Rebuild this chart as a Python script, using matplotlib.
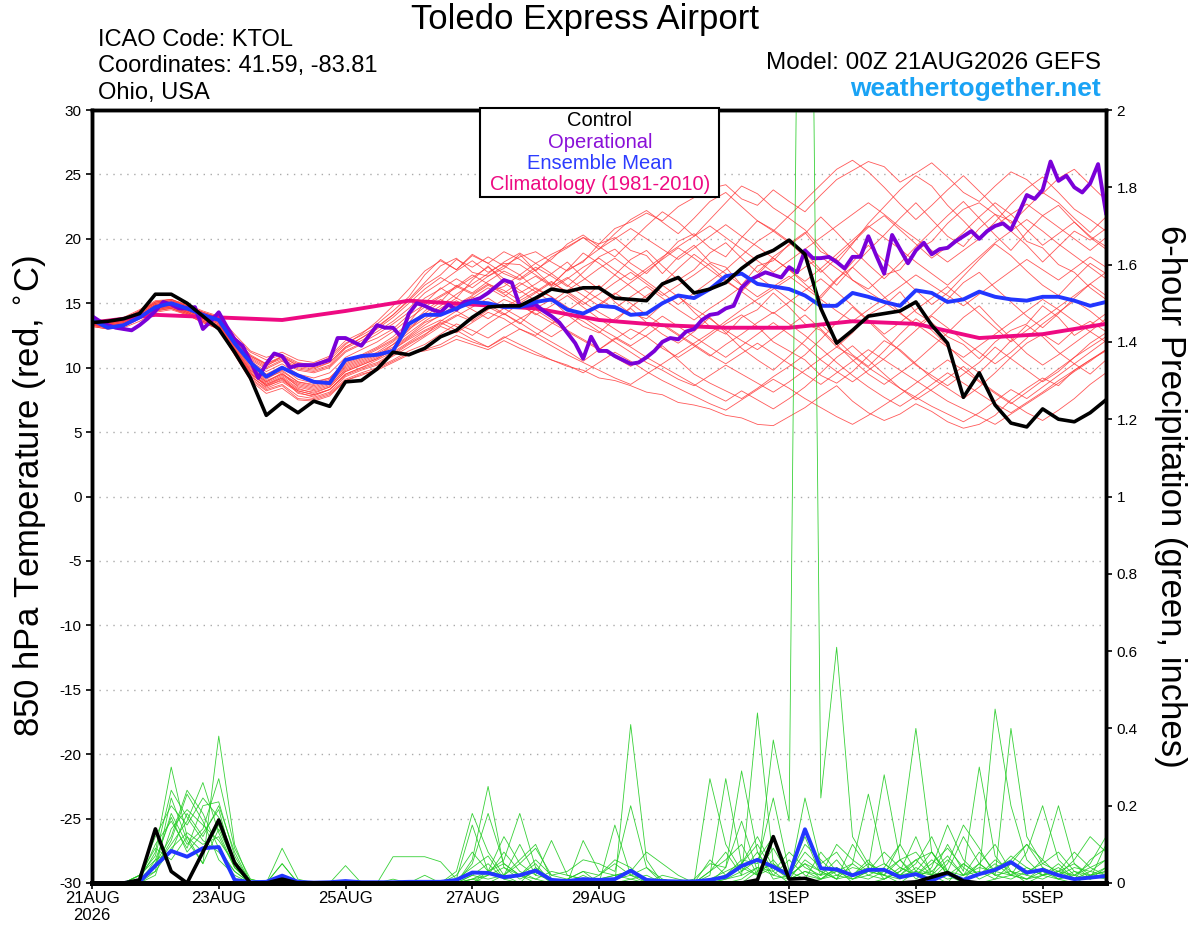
import matplotlib
matplotlib.use("Agg")
import matplotlib.pyplot as plt
from matplotlib.patches import Rectangle

plt.rcParams['font.family'] = ['Liberation Sans', 'DejaVu Sans']
plt.rcParams['axes.unicode_minus'] = False

# time axes (hours since 00Z 21 Aug 2026)
hours = [6 * i for i in range(65)]
op_hours = [3 * j for j in range(129)]
clim_hours = [24 * d for d in range(17)]

tick_hours = [0, 48, 96, 144, 192, 264, 312, 360]
tick_labels = ['21AUG\n2026', '23AUG', '25AUG', '27AUG', '29AUG', '1SEP', '3SEP', '5SEP']

# 850 hPa temperature (C)
control_t = [13.5, 13.6, 13.8, 14.2, 15.7, 15.7, 15.0, 14.0, 13.0, 11.2,
             9.2, 6.3, 7.3, 6.5, 7.4, 7.0, 8.9, 9.0, 9.9, 11.2,
             11.0, 11.5, 12.4, 12.9, 13.9, 14.7, 14.8, 14.8, 15.4, 16.1,
             15.9, 16.2, 16.2, 15.4, 15.3, 15.2, 16.5, 17.0, 15.8, 16.1,
             16.6, 17.7, 18.6, 19.1, 19.9, 18.8, 14.6, 11.9, 12.9, 14.0,
             14.2, 14.4, 15.1, 13.3, 11.9, 7.7, 9.6, 7.1, 5.7, 5.4,
             6.8, 6.0, 5.8, 6.5, 7.5]

mean_t = [13.7, 13.1, 13.3, 13.9, 14.7, 15.0, 14.6, 14.1, 13.7, 11.9,
          10.4, 9.3, 10.0, 9.4, 8.9, 8.8, 10.6, 10.9, 11.0, 11.3,
          13.4, 14.1, 14.1, 14.6, 15.1, 15.0, 14.7, 14.7, 15.1, 15.3,
          14.5, 14.2, 14.8, 14.7, 14.1, 14.2, 15.0, 15.6, 15.4, 16.1,
          17.1, 17.3, 16.5, 16.3, 16.1, 15.6, 14.8, 14.8, 15.8, 15.5,
          15.1, 14.8, 16.0, 15.8, 15.1, 15.3, 15.9, 15.5, 15.3, 15.2,
          15.5, 15.5, 15.2, 14.8, 15.1]

oper_t = [14.0, 13.6, 13.3, 13.1, 13.0, 12.9, 13.3, 13.8, 14.4, 15.1,
          14.9, 14.6, 14.6, 14.7, 13.0, 13.6, 14.3, 13.2, 12.2, 11.7,
          10.5, 9.2, 10.3, 11.1, 10.9, 10.0, 10.2, 10.2, 10.2, 10.4,
          10.6, 12.3, 12.3, 12.0, 11.7, 12.5, 13.3, 13.1, 13.1, 12.4,
          14.2, 15.0, 14.8, 14.5, 14.3, 14.9, 14.5, 15.1, 15.2, 15.4,
          15.8, 16.3, 16.8, 16.6, 14.8, 14.8, 14.9, 14.4, 14.0, 13.5,
          12.7, 11.9, 10.7, 12.4, 11.3, 11.3, 10.9, 10.6, 10.3, 10.4,
          10.8, 11.3, 12.0, 12.3, 12.2, 12.8, 13.0, 13.7, 14.1, 14.2,
          14.6, 14.8, 16.2, 16.8, 17.1, 17.4, 17.2, 17.0, 17.8, 17.4,
          19.1, 18.5, 18.5, 18.6, 18.2, 17.7, 18.6, 18.6, 20.2, 18.7,
          17.3, 20.3, 19.2, 18.1, 19.1, 19.7, 18.8, 19.2, 19.3, 19.8,
          20.2, 20.6, 20.0, 20.6, 21.0, 21.2, 20.7, 22.0, 23.4, 23.1,
          23.8, 26.0, 24.5, 24.9, 24.0, 23.6, 24.3, 25.8, 22.0]

clim_t = [13.5, 14.1, 13.9, 13.7, 14.4, 15.2, 14.9, 14.6, 13.7, 13.3,
          13.1, 13.1, 13.6, 13.4, 12.3, 12.6, 13.4]

members_t = [
    [13.6, 13.5, 13.8, 14.4, 15.1, 15.3, 14.8, 14.3, 13.9, 12.4, 11.2, 10.6, 11.0, 10.4, 10.2, 10.8, 11.9, 12.5, 13.2, 14.1, 15.2,
     16.4, 17.2, 18.4, 17.8, 18.6, 17.9, 17.2, 18.1, 18.8, 19.4, 20.1, 19.6, 20.8, 21.3, 22.0, 21.4, 22.5, 23.2, 23.9, 24.2, 23.1, 22.6, 23.8, 22.9,
     22.1, 23.4, 24.6, 25.3, 26.0, 25.6, 24.4, 25.1, 25.9, 24.8, 23.6, 22.9, 24.1, 25.2, 24.6, 23.5, 24.7, 25.4, 24.2, 23.0],
    [13.2, 13.0, 13.1, 13.6, 14.3, 14.5, 14.1, 13.5, 13.0, 11.0, 9.0, 8.0, 8.4, 7.5, 7.4, 7.8, 9.0, 9.5, 9.8, 10.4, 11.0,
     11.4, 11.8, 12.5, 12.0, 11.6, 12.4, 11.8, 11.2, 10.6, 10.1, 9.8, 9.2, 9.0, 8.6, 8.1, 7.9, 7.3, 7.1, 6.8, 6.3, 6.1, 5.6, 5.5, 6.2,
     6.9, 7.8, 8.6, 7.4, 6.5, 5.9, 6.4, 7.2, 6.6, 5.8, 5.3, 5.6, 6.3, 7.5, 8.4, 9.2, 8.6, 9.8, 10.6, 11.4],
    [13.5, 13.2, 13.3, 14.0, 14.8, 15.0, 14.6, 14.0, 13.5, 11.5, 9.8, 8.9, 9.6, 8.5, 8.2, 8.6, 9.9, 10.4, 10.9, 11.8, 12.9,
     14.2, 15.1, 16.4, 15.8, 16.7, 17.5, 16.9, 17.8, 17.1, 16.3, 17.4, 18.6, 19.2, 18.1, 17.3, 18.5, 19.8, 20.4, 19.3, 18.6, 20.1, 21.4, 20.7, 19.8,
     18.9, 17.6, 16.4, 17.8, 19.1, 20.3, 21.6, 22.8, 21.5, 20.2, 19.4, 20.8, 21.9, 20.6, 19.5, 18.2, 19.4, 20.6, 19.9, 20.8],
    [13.4, 13.3, 13.5, 14.1, 14.7, 14.9, 14.4, 13.9, 13.4, 11.4, 9.6, 8.6, 9.2, 8.0, 7.8, 8.3, 9.5, 10.0, 10.6, 11.2, 12.0,
     12.8, 13.4, 14.1, 13.6, 14.5, 15.3, 14.8, 14.2, 13.5, 12.8, 12.1, 11.4, 12.2, 13.0, 12.4, 11.5, 10.8, 11.6, 12.5, 13.4, 14.1, 13.2, 12.0, 11.3,
     10.6, 9.4, 8.8, 9.7, 10.9, 12.1, 11.4, 10.3, 9.2, 8.4, 7.6, 8.5, 9.6, 10.8, 11.9, 12.6, 11.8, 12.9, 13.6, 12.8],
    [13.7, 13.4, 13.6, 14.3, 15.0, 15.2, 14.7, 14.2, 13.8, 12.0, 10.4, 9.5, 10.1, 9.3, 8.9, 9.2, 10.5, 11.0, 11.6, 12.4, 13.5,
     15.0, 16.2, 15.4, 16.8, 17.9, 16.6, 15.8, 16.5, 17.3, 18.2, 17.0, 16.1, 17.2, 18.4, 19.1, 17.9, 16.8, 17.6, 18.9, 19.7, 18.5, 17.4, 18.6, 19.5,
     20.4, 21.7, 20.5, 19.2, 18.0, 16.9, 18.1, 19.4, 20.6, 21.8, 22.9, 21.6, 20.3, 19.1, 20.5, 21.8, 22.6, 21.3, 20.2, 19.4],
    [13.3, 13.1, 13.2, 13.9, 14.6, 14.8, 14.3, 13.8, 13.2, 11.2, 9.4, 8.4, 8.9, 8.1, 7.7, 8.1, 9.3, 9.8, 10.2, 10.9, 11.6,
     12.4, 13.2, 12.7, 13.5, 14.3, 13.8, 13.0, 12.5, 13.4, 14.2, 13.6, 12.8, 12.0, 11.2, 10.4, 9.8, 9.1, 8.6, 9.4, 10.2, 9.5, 8.8, 8.1, 8.9,
     9.8, 10.7, 11.6, 10.9, 10.0, 9.2, 8.4, 7.7, 7.0, 6.4, 5.8, 6.5, 7.4, 8.3, 7.6, 8.5, 9.4, 10.3, 11.2, 12.1],
    [13.6, 13.4, 13.7, 14.3, 15.0, 15.1, 14.7, 14.1, 13.7, 11.9, 10.6, 9.9, 10.5, 9.8, 9.6, 10.0, 11.2, 11.8, 12.3, 13.0, 14.1,
     14.9, 15.6, 16.3, 15.7, 16.5, 16.0, 15.2, 15.9, 16.7, 15.8, 14.9, 15.7, 16.6, 17.4, 16.5, 15.6, 16.4, 17.2, 18.1, 17.3, 16.4, 15.5, 16.3, 17.1,
     16.2, 15.3, 14.4, 13.6, 14.5, 15.4, 16.3, 17.2, 16.4, 15.6, 14.8, 15.7, 16.6, 17.5, 18.4, 17.6, 16.8, 17.7, 18.6, 17.8],
    [13.5, 13.3, 13.4, 14.0, 14.7, 14.9, 14.5, 14.0, 13.6, 11.7, 10.0, 9.1, 9.8, 8.9, 8.6, 9.0, 10.2, 10.7, 11.2, 12.0, 13.0,
     13.8, 14.6, 15.4, 14.8, 15.9, 16.3, 17.2, 16.1, 15.5, 14.4, 15.3, 16.4, 15.1, 14.2, 13.8, 14.9, 15.6, 14.3, 13.2, 12.6, 13.9, 14.5, 15.8, 14.7,
     13.4, 12.9, 11.6, 12.7, 14.1, 14.8, 15.9, 14.3, 13.5, 12.4, 11.8, 10.7, 12.0, 12.9, 13.4, 14.8, 13.9, 12.5, 13.3, 14.2],
    [13.8, 13.6, 13.9, 14.5, 15.2, 15.3, 14.9, 14.4, 14.0, 12.6, 11.3, 10.8, 11.2, 10.6, 10.4, 10.9, 12.1, 12.7, 13.4, 14.4, 15.5,
     17.2, 18.4, 17.6, 18.8, 18.1, 17.3, 16.8, 17.6, 18.4, 19.6, 20.3, 19.4, 18.6, 19.8, 21.0, 22.1, 21.3, 20.2, 21.5, 22.8, 24.1, 23.5, 22.4, 21.6,
     20.7, 19.3, 18.1, 19.6, 21.2, 22.5, 23.8, 24.9, 24.1, 22.6, 21.4, 20.1, 21.3, 22.7, 23.9, 24.8, 23.6, 22.3, 21.5, 20.6],
    [13.3, 13.1, 13.2, 13.8, 14.5, 14.6, 14.2, 13.6, 13.1, 11.1, 9.2, 8.3, 8.7, 7.8, 7.6, 8.0, 9.1, 9.6, 10.0, 10.6, 11.3,
     11.8, 12.6, 13.4, 12.9, 12.3, 13.1, 13.8, 14.5, 13.7, 12.9, 12.2, 11.5, 10.8, 10.1, 10.9, 11.7, 10.6, 9.5, 8.8, 8.2, 7.6, 8.4, 9.3, 10.1,
     11.0, 12.2, 13.5, 14.7, 13.6, 12.4, 11.3, 10.2, 9.4, 8.6, 9.5, 10.4, 11.6, 10.7, 9.8, 8.9, 9.7, 10.8, 11.9, 12.7],
    [13.6, 13.5, 13.6, 14.2, 14.9, 15.0, 14.6, 14.1, 13.8, 12.2, 10.9, 10.2, 10.7, 10.0, 9.8, 10.2, 11.5, 12.1, 12.8, 13.6, 14.6,
     15.8, 16.6, 17.5, 18.3, 17.4, 18.1, 18.0, 17.2, 16.4, 17.6, 18.9, 18.1, 17.2, 16.3, 15.4, 16.5, 17.7, 18.8, 17.9, 16.8, 15.9, 17.2, 18.5, 17.6,
     16.5, 15.4, 16.8, 18.2, 19.5, 18.3, 17.1, 16.0, 14.9, 15.8, 17.1, 18.4, 19.6, 18.7, 17.5, 16.4, 15.6, 16.9, 18.1, 17.3],
    [13.4, 13.2, 13.4, 14.0, 14.6, 14.8, 14.4, 13.9, 13.5, 11.6, 9.9, 9.0, 9.5, 8.7, 8.4, 8.8, 10.0, 10.5, 11.0, 11.6, 12.5,
     13.5, 14.0, 14.8, 15.5, 14.7, 14.1, 15.0, 15.8, 16.6, 15.9, 15.1, 14.3, 13.6, 14.7, 15.6, 16.4, 15.5, 14.6, 13.8, 12.9, 12.1, 11.4, 12.3, 13.2,
     14.1, 13.0, 11.8, 10.6, 9.5, 8.7, 9.6, 10.5, 11.6, 12.7, 13.9, 14.8, 13.5, 12.3, 11.1, 10.2, 11.0, 11.9, 12.8, 13.8],
    [13.5, 13.4, 13.5, 14.1, 14.8, 15.0, 14.6, 14.1, 13.7, 11.8, 10.3, 9.4, 10.0, 9.1, 8.8, 9.2, 10.4, 10.9, 11.5, 12.2, 13.2,
     14.4, 15.3, 14.6, 15.4, 16.2, 15.5, 16.4, 17.1, 16.3, 17.0, 16.1, 15.3, 14.6, 15.5, 16.3, 15.4, 14.5, 13.7, 14.6, 15.4, 16.3, 17.1, 16.2, 15.3,
     14.4, 15.6, 16.9, 17.8, 16.7, 15.5, 14.3, 13.2, 14.1, 15.3, 16.6, 17.4, 16.2, 15.1, 14.0, 13.1, 14.2, 15.4, 16.5, 15.6],
    [13.2, 13.0, 13.2, 13.8, 14.4, 14.6, 14.2, 13.6, 13.1, 11.3, 9.5, 8.7, 9.3, 8.4, 8.0, 8.5, 9.7, 10.2, 10.7, 11.4, 12.3,
     13.1, 13.7, 13.2, 12.5, 13.4, 14.2, 13.5, 12.7, 12.0, 11.3, 10.5, 11.4, 12.3, 11.6, 10.8, 10.1, 9.4, 8.7, 8.0, 7.4, 8.2, 7.5, 6.8, 7.6,
     8.5, 9.6, 10.8, 11.7, 10.6, 9.5, 8.4, 7.5, 8.3, 9.2, 10.1, 9.0, 8.1, 7.3, 6.5, 5.9, 6.7, 7.6, 8.7, 9.6],
    [13.7, 13.5, 13.7, 14.4, 15.0, 15.2, 14.8, 14.3, 13.9, 12.3, 11.0, 10.3, 10.8, 10.2, 10.0, 10.4, 11.6, 12.3, 13.0, 13.9, 15.0,
     16.1, 17.0, 16.3, 17.2, 16.5, 15.8, 16.6, 15.9, 15.1, 16.0, 16.8, 17.7, 18.5, 17.6, 16.7, 15.8, 14.9, 15.8, 16.7, 17.6, 18.7, 19.8, 20.6, 19.7,
     18.6, 17.4, 18.5, 19.7, 20.9, 21.8, 20.7, 19.6, 18.5, 19.4, 20.5, 21.7, 22.8, 21.9, 20.7, 19.5, 20.4, 21.3, 20.1, 19.2],
    [13.4, 13.2, 13.3, 13.9, 14.6, 14.7, 14.3, 13.7, 13.3, 11.4, 9.7, 8.8, 9.4, 8.6, 8.3, 8.7, 9.8, 10.3, 10.8, 11.5, 12.4,
     13.3, 14.1, 14.9, 15.6, 16.4, 15.7, 14.9, 14.1, 14.8, 15.6, 14.7, 13.8, 13.0, 12.2, 13.1, 14.0, 13.2, 12.4, 11.6, 10.8, 11.7, 12.6, 13.5, 12.6,
     11.7, 10.6, 9.7, 8.9, 9.8, 10.7, 11.8, 12.9, 14.0, 13.1, 12.1, 11.2, 10.3, 11.2, 12.3, 13.4, 14.3, 15.2, 14.4, 13.4],
    [13.6, 13.4, 13.6, 14.2, 14.9, 15.1, 14.7, 14.2, 13.7, 12.1, 10.7, 10.0, 10.6, 9.9, 9.7, 10.1, 11.3, 11.9, 12.6, 13.4, 14.3,
     15.4, 16.1, 16.9, 16.2, 17.1, 17.9, 18.6, 19.0, 18.2, 17.5, 18.3, 19.2, 20.0, 20.8, 20.0, 19.2, 18.4, 19.3, 20.2, 21.1, 20.2, 19.4, 18.5, 17.6,
     16.7, 17.7, 18.8, 19.9, 21.0, 20.1, 19.2, 18.2, 17.3, 16.4, 17.5, 18.6, 19.7, 20.6, 21.5, 20.6, 19.6, 18.7, 17.8, 16.9],
    [13.3, 13.2, 13.3, 13.9, 14.5, 14.7, 14.3, 13.7, 13.2, 11.3, 9.5, 8.6, 9.0, 8.2, 7.9, 8.3, 9.5, 10.0, 10.4, 11.1, 11.9,
     12.6, 13.3, 14.0, 14.7, 15.4, 14.6, 13.9, 13.1, 12.4, 13.2, 14.1, 14.9, 15.8, 15.0, 14.1, 13.3, 12.5, 11.7, 10.9, 11.8, 12.6, 13.5, 14.3, 13.4,
     12.5, 11.5, 10.4, 9.4, 8.5, 7.7, 7.0, 7.8, 8.7, 9.6, 8.8, 8.0, 7.2, 6.5, 7.3, 8.1, 9.0, 9.8, 10.6, 11.3],
    [13.5, 13.3, 13.5, 14.1, 14.8, 15.0, 14.5, 14.0, 13.6, 11.9, 10.5, 9.7, 10.3, 9.5, 9.2, 9.6, 10.8, 11.4, 12.0, 12.8, 13.8,
     14.7, 15.5, 16.2, 17.0, 17.8, 16.9, 16.0, 15.2, 16.1, 16.9, 17.8, 18.5, 17.6, 16.8, 17.7, 18.6, 19.4, 20.2, 21.0, 20.1, 19.2, 18.3, 17.4, 18.3,
     19.2, 20.1, 21.0, 21.9, 22.8, 21.9, 20.9, 20.0, 19.1, 18.2, 19.1, 20.0, 21.0, 21.9, 22.7, 21.8, 20.9, 20.0, 19.1, 20.1],
    [13.4, 13.3, 13.4, 14.0, 14.7, 14.9, 14.4, 13.9, 13.4, 11.5, 9.8, 8.9, 9.5, 8.8, 8.5, 8.9, 10.1, 10.6, 11.1, 11.8, 12.7,
     13.6, 14.4, 15.2, 14.5, 13.8, 14.6, 15.4, 16.2, 15.5, 14.7, 13.9, 13.1, 12.4, 11.7, 12.5, 13.4, 12.6, 11.8, 11.0, 10.3, 11.1, 11.9, 11.1, 10.3,
     9.5, 8.7, 9.6, 10.5, 11.4, 10.6, 9.8, 9.0, 8.2, 7.4, 6.8, 6.2, 5.6, 6.4, 7.2, 8.0, 8.8, 9.7, 10.5, 11.4],
    [13.6, 13.4, 13.7, 14.3, 15.1, 15.2, 14.8, 14.2, 13.8, 12.1, 10.8, 10.1, 10.9, 10.3, 10.1, 10.6, 11.8, 12.6, 13.6, 14.8, 16.1,
     17.5, 18.3, 17.6, 18.7, 18.1, 19.0, 18.4, 17.5, 18.6, 19.3, 20.1, 19.2, 20.4, 21.5, 22.2, 21.3, 20.4, 21.6, 22.9, 23.6, 22.5, 21.4, 20.6, 21.8,
     23.0, 24.2, 25.4, 26.1, 25.2, 24.0, 22.7, 21.5, 22.6, 23.8, 24.9, 23.7, 22.5, 21.2, 22.4, 23.6, 22.8, 21.6, 20.5, 21.7],
    [13.3, 13.1, 13.2, 13.8, 14.4, 14.6, 14.1, 13.5, 13.0, 11.0, 9.1, 8.2, 8.6, 7.6, 7.5, 7.9, 9.0, 9.4, 9.9, 10.5, 11.1,
     11.3, 11.6, 12.2, 11.8, 11.4, 12.1, 11.5, 11.0, 10.6, 10.2, 9.6, 10.4, 11.2, 10.5, 9.7, 9.0, 8.4, 7.8, 7.2, 6.7, 7.5, 8.3, 9.1, 8.4,
     7.6, 6.9, 6.2, 5.6, 6.3, 7.1, 7.9, 8.8, 9.7, 10.6, 9.8, 8.9, 8.0, 7.2, 8.1, 9.0, 9.9, 10.8, 11.6, 12.4],
    [13.5, 13.4, 13.6, 14.2, 14.9, 15.1, 14.6, 14.0, 13.6, 11.7, 10.1, 9.2, 9.7, 8.9, 8.7, 9.1, 10.3, 10.8, 11.4, 12.1, 13.1,
     14.0, 14.8, 15.7, 16.5, 17.3, 18.2, 18.9, 18.1, 17.3, 16.4, 15.6, 14.8, 15.7, 16.6, 17.5, 18.4, 19.3, 18.5, 17.6, 16.7, 15.9, 15.0, 14.2, 15.1,
     16.0, 16.9, 15.9, 14.8, 13.7, 12.6, 13.5, 14.5, 15.4, 16.3, 15.3, 14.2, 13.1, 12.0, 12.9, 13.8, 14.7, 15.6, 16.5, 17.4],
    [13.4, 13.2, 13.3, 13.9, 14.6, 14.8, 14.3, 13.8, 13.3, 11.4, 9.6, 8.7, 9.2, 8.3, 8.1, 8.5, 9.7, 10.2, 10.7, 11.4, 12.2,
     12.9, 13.5, 12.9, 12.2, 11.6, 12.3, 13.0, 12.4, 11.7, 11.0, 10.4, 9.8, 9.2, 8.7, 9.5, 10.3, 11.1, 11.9, 12.7, 13.6, 14.5, 15.3, 16.1, 16.9,
     17.8, 18.6, 17.7, 16.8, 15.9, 15.1, 14.2, 13.4, 12.5, 11.6, 10.8, 11.7, 12.6, 13.5, 14.4, 15.3, 14.5, 13.6, 12.8, 12.0],
    [13.7, 13.5, 13.8, 14.4, 15.1, 15.3, 14.8, 14.3, 13.9, 12.2, 10.9, 10.3, 10.9, 10.1, 9.9, 10.4, 11.6, 12.3, 13.1, 14.1, 15.3,
     16.6, 17.9, 18.5, 17.4, 17.1, 17.7, 18.8, 17.5, 16.4, 17.6, 18.2, 19.6, 20.1, 19.1, 18.7, 17.3, 18.6, 19.5, 18.2, 17.8, 16.4, 17.9, 18.3, 19.6,
     20.5, 19.0, 18.4, 16.8, 16.1, 17.2, 17.6, 19.1, 19.8, 21.2, 22.3, 22.8, 21.9, 21.4, 19.8, 19.3, 18.0, 17.4, 16.2, 15.3],
    [13.3, 13.1, 13.2, 13.8, 14.5, 14.7, 14.2, 13.6, 13.2, 11.2, 9.3, 8.5, 9.1, 8.2, 7.9, 8.3, 9.4, 9.9, 10.3, 11.0, 11.8,
     12.5, 13.6, 14.4, 13.7, 14.9, 14.2, 13.4, 14.6, 15.3, 14.1, 13.2, 12.7, 13.8, 14.6, 13.5, 12.6, 11.9, 12.8, 13.9, 12.7, 11.5, 10.6, 9.8, 10.9,
     12.1, 13.4, 12.2, 11.0, 10.1, 11.3, 12.6, 13.8, 12.9, 11.7, 10.5, 9.6, 10.8, 12.1, 13.3, 12.4, 11.2, 10.3, 9.5, 10.6],
]

# 6-hour precipitation (inches)
control_p = [0, 0, 0, 0.008, 0.14, 0.03, 0, 0.08, 0.163, 0.052,
             0, 0, 0.01, 0, 0, 0, 0, 0, 0, 0,
             0, 0, 0, 0, 0, 0, 0, 0, 0, 0,
             0, 0, 0, 0, 0, 0, 0, 0, 0, 0,
             0, 0, 0.008, 0.12, 0.01, 0.012, 0, 0, 0, 0,
             0, 0, 0.003, 0.015, 0.027, 0.005, 0, 0, 0, 0,
             0, 0, 0, 0, 0]

mean_p = [0, 0, 0, 0.003, 0.045, 0.083, 0.068, 0.09, 0.093, 0.008,
          0.002, 0.003, 0.019, 0.003, 0.001, 0.002, 0.005, 0.002, 0.002, 0.002,
          0.003, 0.003, 0.003, 0.008, 0.027, 0.026, 0.015, 0.02, 0.032, 0.008,
          0.005, 0.01, 0.008, 0.01, 0.032, 0.008, 0.005, 0.004, 0.004, 0.008,
          0.016, 0.044, 0.06, 0.042, 0.02, 0.139, 0.038, 0.035, 0.02, 0.034,
          0.034, 0.015, 0.023, 0.006, 0.025, 0.008, 0.023, 0.034, 0.054, 0.027,
          0.034, 0.02, 0.01, 0.014, 0.018]

members_p = [
    [0, 0, 0, 0.01, 0.08, 0.30, 0.12, 0.05, 0.38, 0.10,
     0, 0, 0.02, 0, 0, 0, 0, 0, 0, 0,
     0, 0, 0, 0, 0.02, 0.05, 0.01, 0, 0, 0,
     0, 0, 0, 0, 0.41, 0.06, 0, 0, 0, 0,
     0.02, 0.05, 0.10, 0.03, 0, 0, 0.01, 0.04, 0, 0,
     0.01, 0.03, 0.12, 0.02, 0, 0.05, 0.02, 0.06, 0.03, 0,
     0.02, 0.05, 0.01, 0.03, 0.06],
    [0, 0, 0, 0.02, 0.12, 0.20, 0.15, 0.22, 0.17, 0.06,
     0, 0, 0.09, 0.01, 0, 0, 0, 0, 0, 0.01,
     0, 0, 0, 0.03, 0.18, 0.08, 0.02, 0.06, 0.10, 0.01,
     0, 0.02, 0, 0, 0, 0, 0.01, 0, 0, 0.02,
     0.27, 0.05, 0.02, 0.37, 0.16, 4.3, 0.22, 0.61, 0.12, 0.05,
     0.02, 0, 0.03, 0.08, 0.02, 0, 0, 0.01, 0.05, 0.10,
     0.04, 0.01, 0, 0.02, 0.03],
    [0, 0, 0, 0, 0.05, 0.12, 0.24, 0.18, 0.09, 0.03,
     0, 0, 0.05, 0, 0, 0, 0.045, 0, 0, 0,
     0, 0, 0, 0, 0.06, 0.25, 0.04, 0.01, 0.03, 0,
     0, 0.11, 0.03, 0.02, 0.03, 0, 0, 0, 0.01, 0.05,
     0.04, 0.29, 0.08, 0.02, 0.01, 0.06, 0.03, 0.01, 0.10, 0.04,
     0.28, 0.06, 0.01, 0.04, 0.15, 0.06, 0.02, 0.45, 0.20, 0.06,
     0.02, 0.03, 0.05, 0.01, 0.04],
    [0, 0, 0, 0.01, 0.04, 0.10, 0.16, 0.26, 0.13, 0.04,
     0.01, 0, 0, 0, 0, 0, 0, 0, 0, 0.068,
     0.068, 0.068, 0.055, 0.01, 0.15, 0.03, 0.02, 0.10, 0.02, 0.11,
     0.02, 0.01, 0, 0.15, 0.02, 0.04, 0, 0, 0, 0.03,
     0.08, 0.02, 0.44, 0.05, 0.01, 0.03, 0.02, 0.06, 0.01, 0.03,
     0.02, 0.10, 0.40, 0.08, 0.03, 0.01, 0.02, 0.05, 0.02, 0.08,
     0.20, 0.06, 0.02, 0.04, 0.02],
    [0, 0, 0, 0.02, 0.06, 0.08, 0.18, 0.12, 0.20, 0.08,
     0, 0, 0, 0, 0, 0, 0, 0, 0, 0,
     0, 0, 0, 0, 0.05, 0.18, 0.05, 0.02, 0.06, 0.02,
     0.03, 0.06, 0.05, 0.03, 0.20, 0.04, 0.01, 0, 0, 0,
     0.01, 0.03, 0.06, 0.12, 0.02, 0.08, 0.04, 0.01, 0.05, 0.23,
     0.05, 0.02, 0.06, 0.02, 0.10, 0.03, 0.30, 0.07, 0.02, 0.01,
     0.04, 0.02, 0.06, 0.12, 0.08],
    [0, 0, 0, 0, 0.03, 0.22, 0.11, 0.05, 0.14, 0.05,
     0, 0, 0, 0, 0, 0, 0, 0, 0, 0,
     0, 0.02, 0, 0, 0.01, 0.03, 0.06, 0.18, 0.04, 0,
     0, 0, 0.02, 0.06, 0.04, 0, 0.02, 0.01, 0, 0.06,
     0.02, 0.06, 0.05, 0.22, 0.03, 0.12, 0.02, 0.03, 0.01, 0.02,
     0.04, 0.10, 0.03, 0.01, 0.05, 0.15, 0.09, 0.02, 0.40, 0.12,
     0.05, 0.08, 0.03, 0.01, 0.10],
    [0, 0, 0, 0.01, 0.10, 0.16, 0.09, 0.20, 0.21, 0.07,
     0, 0, 0.05, 0, 0, 0, 0, 0, 0, 0,
     0, 0, 0, 0, 0, 0.02, 0.08, 0.03, 0.01, 0,
     0.01, 0.03, 0.02, 0.05, 0.02, 0.01, 0, 0, 0, 0.27,
     0.10, 0.03, 0.08, 0.01, 0.02, 0.05, 0.01, 0.04, 0.02, 0.06,
     0.01, 0.03, 0.06, 0.08, 0.02, 0.05, 0.02, 0.04, 0.06, 0.10,
     0.06, 0.20, 0.05, 0.02, 0.03],
    [0, 0, 0, 0, 0.02, 0.14, 0.19, 0.15, 0.11, 0.05,
     0, 0, 0, 0, 0, 0, 0, 0, 0, 0,
     0, 0, 0, 0.01, 0.04, 0.07, 0.01, 0.02, 0.05, 0,
     0, 0, 0.01, 0.02, 0.03, 0.08, 0.05, 0.02, 0, 0,
     0.04, 0.16, 0.03, 0.05, 0.02, 0.10, 0.06, 0.02, 0.01, 0.03,
     0.02, 0.06, 0.08, 0.03, 0.07, 0.02, 0.05, 0.10, 0.03, 0.02,
     0.01, 0.03, 0.02, 0.05, 0.12],
    [0, 0, 0, 0.01, 0.05, 0.18, 0.10, 0.14, 0.27, 0.09,
     0.01, 0, 0, 0, 0, 0, 0, 0, 0, 0,
     0, 0, 0, 0, 0.02, 0.01, 0.02, 0, 0.04, 0.01,
     0, 0, 0.01, 0.02, 0.01, 0, 0, 0, 0, 0.01,
     0.03, 0.05, 0.12, 0.04, 0.01, 0.22, 0.05, 0.08, 0.02, 0.01,
     0.03, 0.02, 0.05, 0.12, 0.03, 0.02, 0.08, 0.03, 0.05, 0.02,
     0.06, 0.02, 0.04, 0.03, 0.02],
    [0, 0, 0, 0.02, 0.07, 0.24, 0.17, 0.11, 0.08, 0.03,
     0, 0, 0, 0, 0, 0, 0, 0, 0, 0,
     0, 0, 0, 0, 0, 0, 0, 0, 0, 0,
     0, 0, 0, 0, 0, 0, 0, 0, 0, 0.01,
     0.02, 0.04, 0.02, 0.06, 0.01, 0.03, 0.01, 0.02, 0.04, 0.03,
     0.05, 0.02, 0.03, 0.02, 0.06, 0.02, 0.04, 0.03, 0.02, 0.01,
     0.03, 0.01, 0.02, 0.01, 0.02],
    [0, 0, 0, 0, 0.04, 0.11, 0.23, 0.16, 0.06, 0.02,
     0, 0, 0.01, 0, 0, 0, 0, 0, 0, 0,
     0, 0, 0, 0.02, 0.08, 0.03, 0.12, 0.05, 0.02, 0.01,
     0, 0, 0, 0.01, 0.02, 0, 0, 0, 0, 0,
     0, 0.01, 0.04, 0.03, 0.08, 0.04, 0.02, 0.10, 0.06, 0.03,
     0.08, 0.04, 0.02, 0.06, 0.03, 0.12, 0.05, 0.02, 0.01, 0.03,
     0.05, 0.03, 0.08, 0.04, 0.06],
    [0, 0, 0, 0.01, 0.03, 0.09, 0.13, 0.10, 0.12, 0.04,
     0, 0, 0, 0, 0, 0, 0, 0, 0, 0,
     0, 0, 0, 0, 0.01, 0.02, 0.04, 0.02, 0.01, 0.03,
     0.02, 0.01, 0, 0, 0.01, 0.02, 0, 0, 0, 0.03,
     0.06, 0.10, 0.02, 0.04, 0.03, 0.01, 0.08, 0.03, 0.02, 0.05,
     0.03, 0.06, 0.02, 0.05, 0.09, 0.04, 0.01, 0.03, 0.07, 0.04,
     0.02, 0.04, 0.01, 0.06, 0.09],
    [0, 0, 0, 0.02, 0.09, 0.06, 0.12, 0.08, 0.15, 0.05,
     0, 0, 0, 0, 0, 0, 0, 0, 0, 0,
     0, 0, 0, 0, 0, 0.03, 0.05, 0.02, 0, 0,
     0, 0, 0, 0, 0, 0, 0, 0, 0, 0,
     0.01, 0.02, 0.04, 0.02, 0.06, 0.02, 0.01, 0.03, 0.05, 0.02,
     0.01, 0.04, 0.02, 0.03, 0.01, 0.02, 0.03, 0.01, 0.02, 0.04,
     0.02, 0.01, 0.03, 0.02, 0.01],
    [0, 0, 0, 0, 0.06, 0.17, 0.08, 0.13, 0.19, 0.04,
     0, 0, 0, 0, 0, 0, 0, 0, 0, 0,
     0, 0, 0, 0, 0.01, 0, 0.02, 0.05, 0.09, 0.02,
     0.01, 0.03, 0, 0, 0, 0, 0, 0, 0, 0,
     0, 0, 0.03, 0.09, 0.02, 0.05, 0.03, 0.01, 0.02, 0.04,
     0.02, 0.01, 0.04, 0.02, 0.03, 0.01, 0.05, 0.02, 0.03, 0.01,
     0.02, 0.03, 0.01, 0.02, 0.04],
]

W, H = 1200, 927
fig = plt.figure(figsize=(12, 9.27), dpi=100)
ax = fig.add_axes([92 / W, 44 / H, 1014 / W, 773 / H])
ax2 = ax.twinx()

# temperature
for m in members_t:
    ax.plot(hours, m, color='#ff3b3b', lw=0.6, alpha=0.85, zorder=2)
ax.plot(clim_hours, clim_t, color='#ee0a82', lw=2.8, zorder=4)
ax.plot(op_hours, oper_t, color='#7a00d8', lw=2.8, zorder=5)
ax.plot(hours, mean_t, color='#2236ff', lw=2.8, zorder=6)
ax.plot(hours, control_t, color='black', lw=2.6, zorder=7)

ax.set_xlim(0, 384)
ax.set_ylim(-30, 30)
ax.set_yticks(range(-30, 31, 5))
ax.yaxis.grid(True, linestyle=(0, (1, 4)), color='#aaaaaa', lw=1)
ax.set_axisbelow(True)
ax.set_xticks(tick_hours)
ax.set_xticklabels(tick_labels, fontsize=12, linespacing=1.1)
ax.tick_params(axis='y', labelsize=11, length=4, width=1.2)
ax.tick_params(axis='x', length=4, width=1.2, pad=2)

# precipitation
for m in members_p:
    ax2.plot(hours, m, color='#22cc22', lw=0.6, alpha=0.9)
ax2.plot(hours, mean_p, color='#2236ff', lw=2.8)
ax2.plot(hours, control_p, color='black', lw=2.6)
ax2.set_ylim(0, 2)
ax2.set_yticks([0, 0.2, 0.4, 0.6, 0.8, 1, 1.2, 1.4, 1.6, 1.8, 2])
ax2.set_yticklabels(['0', '0.2', '0.4', '0.6', '0.8', '1', '1.2', '1.4', '1.6', '1.8', '2'])
ax2.tick_params(axis='y', labelsize=11, length=4, width=1.2)

for a in (ax, ax2):
    for s in a.spines.values():
        s.set_linewidth(2.5)
    a.spines['bottom'].set_linewidth(3.5)

# header text
fig.text(585 / W, 1 - 19 / H, 'Toledo Express Airport', ha='center', va='center', fontsize=25)
fig.text(98 / W, 1 - 40 / H, 'ICAO Code: KTOL', ha='left', va='center', fontsize=17)
fig.text(98 / W, 1 - 66 / H, 'Coordinates: 41.59, -83.81', ha='left', va='center', fontsize=17)
fig.text(98 / W, 1 - 93 / H, 'Ohio, USA', ha='left', va='center', fontsize=17)
fig.text(1101 / W, 1 - 63 / H, 'Model: 00Z 21AUG2026 GEFS', ha='right', va='center', fontsize=17.5)
fig.text(1101 / W, 1 - 89 / H, 'weathertogether.net', ha='right', va='center',
         fontsize=19, fontweight='bold', color='#1aa3f5')

# legend box
fig.patches.append(Rectangle((480 / W, 1 - 197 / H), 239 / W, 89 / H, transform=fig.transFigure,
                             facecolor='white', edgecolor='black', lw=1.5, zorder=10))
legend_items = [('Control', 'black'), ('Operational', '#8a10d8'),
                ('Ensemble Mean', '#2c3cff'), ('Climatology (1981-2010)', '#ee0a82')]
for k, (label, col) in enumerate(legend_items):
    fig.text(600 / W, 1 - (121 + 21.3 * k) / H, label, ha='center', va='center',
             fontsize=14.5, color=col, zorder=11)

# axis titles
fig.text(30 / W, 1 - 496 / H, '850 hPa Temperature (red, $^{\\circ}$C)', rotation=90,
         ha='center', va='center', fontsize=25)
fig.text(1170 / W, 1 - 496 / H, '6-hour Precipitation (green, inches)', rotation=-90,
         ha='center', va='center', fontsize=25)

fig.savefig('out.png', dpi=100)
